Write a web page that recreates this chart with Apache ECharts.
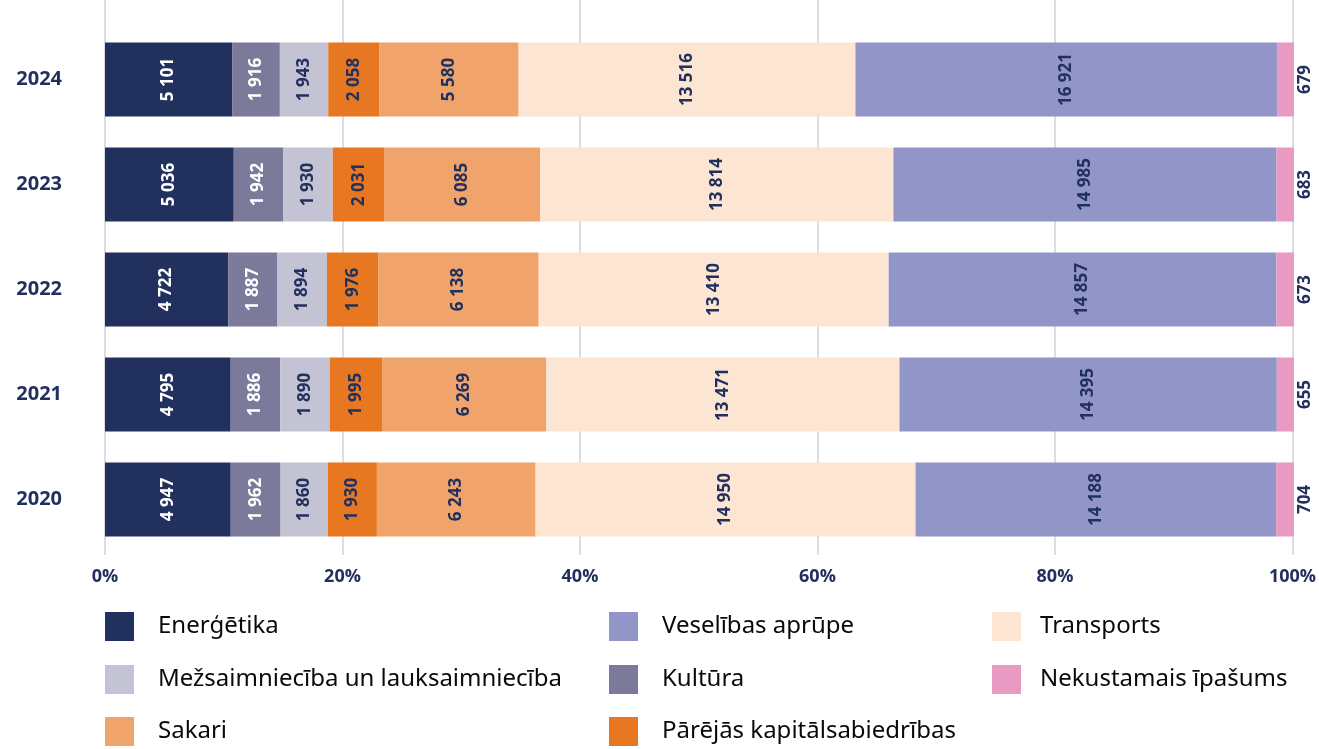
<!DOCTYPE html>
<html>
<head>
<meta charset="utf-8">
<script src="https://cdn.jsdelivr.net/npm/echarts@6/dist/echarts.min.js"></script>
<style>
  html, body { margin: 0; padding: 0; background: #fff; }
  #main { width: 1319px; height: 749px; }
</style>
</head>
<body>
<div id="main"></div>
<script>
// gadi (no apakšas uz augšu)
const years = ['2020', '2021', '2022', '2023', '2024'];

// vērtības pa nozarēm, secībā kā years
const energetika = [4947, 4795, 4722, 5036, 5101];
const kultura = [1962, 1886, 1887, 1942, 1916];
const mezsaimn = [1860, 1890, 1894, 1930, 1943];
const parejas = [1930, 1995, 1976, 2031, 2058];
const sakari = [6243, 6269, 6138, 6085, 5580];
const transports = [14950, 13471, 13410, 13814, 13516];
const veseliba = [14188, 14395, 14857, 14985, 16921];
const nekustamais = [704, 655, 673, 683, 679];

const xTicks = [0, 20, 40, 60, 80, 100];

const navy = '#22305e';

const seriesDefs = [
  { name: 'Enerģētika', data: energetika, color: '#22305e', text: '#fff' },
  { name: 'Kultūra', data: kultura, color: '#7b7a9b', text: '#fff' },
  { name: 'Mežsaimniecība un lauksaimniecība', data: mezsaimn, color: '#c4c3d4', text: navy },
  { name: 'Pārējās kapitālsabiedrības', data: parejas, color: '#e87722', text: navy },
  { name: 'Sakari', data: sakari, color: '#f0a46b', text: navy },
  { name: 'Transports', data: transports, color: '#fde5d3', text: navy },
  { name: 'Veselības aprūpe', data: veseliba, color: '#9195c8', text: navy },
  { name: 'Nekustamais īpašums', data: nekustamais, color: '#e89ac2', text: navy }
];

// kopsummas katram gadam
const totals = years.map((y, i) => seriesDefs.reduce((s, d) => s + d.data[i], 0));

function fmt(v) {
  return String(v).replace(/\B(?=(\d{3})+(?!\d))/g, ' ');
}

let myChart = echarts.init(document.getElementById('main'));

const series = seriesDefs.map((d, k) => ({
  name: d.name,
  type: 'bar',
  stack: 'total',
  xAxisIndex: 1,
  yAxisIndex: 1,
  barWidth: 74,
  itemStyle: { color: d.color },
  label: {
    show: true,
    position: 'inside',
    rotate: 90,
    offset: k === seriesDefs.length - 1 ? [0, 20] : [0, 0],
    color: d.text,
    fontFamily: 'Open Sans',
    fontWeight: 'bold',
    fontSize: 17,
    formatter: p => fmt(d.data[p.dataIndex])
  },
  data: d.data.map((v, i) => v / totals[i] * 100)
}));

// leģenda: katrs ieraksts atsevišķi, lai sakārtotu kolonnās
const legendPos = [
  ['Enerģētika', 105, 612, 19],
  ['Mežsaimniecība un lauksaimniecība', 105, 665, 19],
  ['Sakari', 105, 717, 19],
  ['Veselības aprūpe', 609, 612, 19],
  ['Kultūra', 609, 665, 19],
  ['Pārējās kapitālsabiedrības', 609, 717, 19],
  ['Transports', 992, 612, 14],
  ['Nekustamais īpašums', 992, 665, 14]
];

const legends = legendPos.map(l => ({
  left: l[1],
  top: l[2],
  padding: 0,
  itemWidth: 29,
  itemHeight: 29,
  icon: 'rect',
  selectedMode: false,
  textStyle: { color: '#0a0a0a', fontSize: 24, fontFamily: 'Noto Sans', padding: [0, 0, 0, l[3]] },
  data: [l[0]]
}));

let option = {
  animation: false,
  legend: legends,
  grid: [
    { left: 105, right: 25, top: 0, height: 555 },
    { left: 105, right: 25, top: 27, height: 525 }
  ],
  xAxis: [
    {
      gridIndex: 0,
      type: 'value',
      min: 0,
      max: 100,
      interval: 20,
      axisLine: { show: false },
      axisTick: { show: false },
      splitLine: { lineStyle: { color: '#dcdce6', width: 2 } },
      axisLabel: {
        margin: 13,
        color: navy,
        fontFamily: 'Open Sans',
        fontWeight: 'bold',
        fontSize: 18,
        formatter: v => xTicks.includes(v) ? v + '%' : ''
      }
    },
    {
      gridIndex: 1,
      type: 'value',
      min: 0,
      max: 100,
      show: false
    }
  ],
  yAxis: [
    { gridIndex: 0, type: 'value', min: 0, max: 1, show: false },
    {
      gridIndex: 1,
      type: 'category',
      data: years,
      axisLine: { show: false },
      axisTick: { show: false },
      axisLabel: {
        margin: 43,
        color: navy,
        fontFamily: 'Open Sans',
        fontWeight: 'bold',
        fontSize: 20
      }
    }
  ],
  series: series
};

myChart.setOption(option);
</script>
</body>
</html>
